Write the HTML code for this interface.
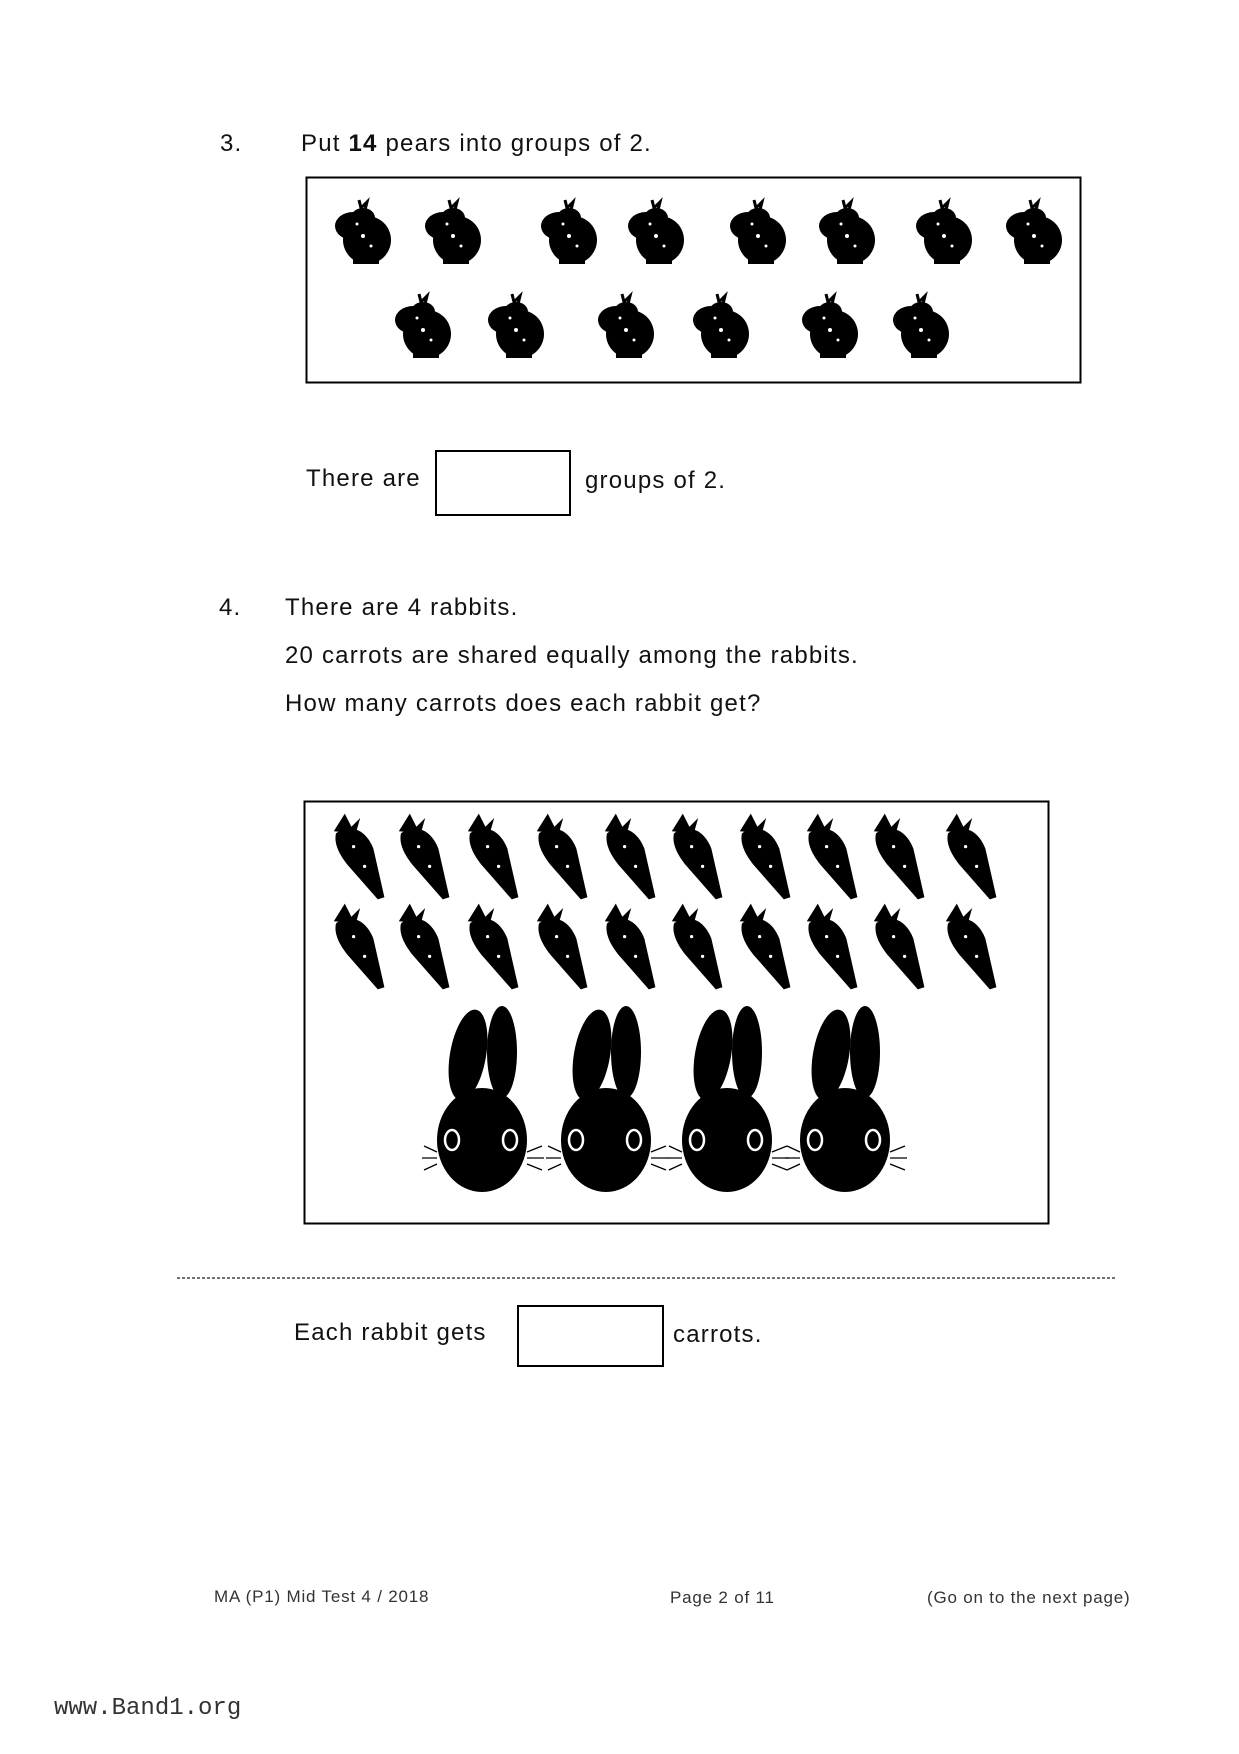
<!DOCTYPE html>
<html><head><meta charset="utf-8"><style>
html,body{margin:0;padding:0;background:#fff;}
body{width:1239px;height:1754px;position:relative;overflow:hidden;font-family:"Liberation Sans",Arial,sans-serif;color:#111;}
.t{position:absolute;font-size:24px;letter-spacing:1.2px;white-space:nowrap;line-height:1;}
.f{position:absolute;font-size:17px;letter-spacing:0.8px;white-space:nowrap;line-height:1;color:#333;}
svg{position:absolute;left:0;top:0;}
</style></head><body>
<svg width="1239" height="1754" viewBox="0 0 1239 1754">
<defs>
<g id="pear">
<path d="M-4,-32 L-2,-24 L4,-30 L2,-22" stroke="#000" stroke-width="3" fill="none"/>
<ellipse cx="4" cy="8" rx="24" ry="24" fill="#000"/>
<ellipse cx="-10" cy="-6" rx="18" ry="14" fill="#000"/>
<ellipse cx="0" cy="-14" rx="12" ry="10" fill="#000"/>
<rect x="-10" y="26" width="26" height="6" fill="#000"/>
<circle cx="0" cy="4" r="2" fill="#fff"/><circle cx="8" cy="14" r="1.5" fill="#fff"/><circle cx="-6" cy="-8" r="1.5" fill="#fff"/>
</g>
<g id="carrot">
<g transform="scale(1.1)">
<path d="M-22,-28 L-12,-44 L-6,-32 L2,-40 L-2,-26 Z" fill="#000"/>
<path d="M-20,-26 C-6,-36 8,-28 14,-12 L24,32 L18,34 L-10,2 C-18,-8 -22,-18 -20,-26 Z" fill="#000"/>
<circle cx="-4" cy="-14" r="1.5" fill="#fff"/><circle cx="6" cy="4" r="1.5" fill="#fff"/>
</g>
</g>
<g id="rabbit">
<ellipse cx="-14" cy="-85" rx="18" ry="46" transform="rotate(10 -14 -85)" fill="#000"/>
<ellipse cx="20" cy="-88" rx="15" ry="46" fill="#000"/>
<ellipse cx="0" cy="0" rx="45" ry="52" fill="#000"/>
<ellipse cx="-30" cy="0" rx="7" ry="10" fill="none" stroke="#fff" stroke-width="2.5"/>
<ellipse cx="28" cy="0" rx="7" ry="10" fill="none" stroke="#fff" stroke-width="2.5"/>
<path d="M-45,12 L-58,6 M-45,18 L-60,18 M-45,24 L-58,30 M45,12 L60,6 M45,18 L62,18 M45,24 L60,30" stroke="#000" stroke-width="1.3"/>
</g>
</defs>
<rect x="306.5" y="177.5" width="774" height="205" fill="none" stroke="#000" stroke-width="2"/>
<use href="#pear" x="363" y="232"/><use href="#pear" x="453" y="232"/><use href="#pear" x="569" y="232"/><use href="#pear" x="656" y="232"/>
<use href="#pear" x="758" y="232"/><use href="#pear" x="847" y="232"/><use href="#pear" x="944" y="232"/><use href="#pear" x="1034" y="232"/>
<use href="#pear" x="423" y="326"/><use href="#pear" x="516" y="326"/><use href="#pear" x="626" y="326"/><use href="#pear" x="721" y="326"/>
<use href="#pear" x="830" y="326"/><use href="#pear" x="921" y="326"/>
<rect x="436" y="451" width="134" height="64" fill="none" stroke="#000" stroke-width="2"/>
<rect x="304.5" y="801.5" width="744" height="422" fill="none" stroke="#000" stroke-width="2"/>
<g id="crow">
<use href="#carrot" x="358" y="862"/><use href="#carrot" x="423" y="862"/><use href="#carrot" x="492" y="862"/><use href="#carrot" x="561" y="862"/>
<use href="#carrot" x="629" y="862"/><use href="#carrot" x="696" y="862"/><use href="#carrot" x="764" y="862"/><use href="#carrot" x="831" y="862"/>
<use href="#carrot" x="898" y="862"/><use href="#carrot" x="970" y="862"/>
</g>
<use href="#crow" x="0" y="90"/>
<use href="#rabbit" x="482" y="1140"/><use href="#rabbit" x="606" y="1140"/><use href="#rabbit" x="727" y="1140"/><use href="#rabbit" x="845" y="1140"/>
<line x1="177" y1="1278" x2="1115" y2="1278" stroke="#444" stroke-width="1.5" stroke-dasharray="3 2"/>
<rect x="518" y="1306" width="145" height="60" fill="none" stroke="#000" stroke-width="2"/>
</svg>
<div class="t" style="left:220px;top:132px">3.</div>
<div class="t" style="left:301px;top:132px">Put <b>14</b> pears into groups of 2.</div>
<div class="t" style="left:306px;top:467px">There are</div>
<div class="t" style="left:585px;top:469px">groups of 2.</div>
<div class="t" style="left:219px;top:596px">4.</div>
<div class="t" style="left:285px;top:596px">There are 4 rabbits.</div>
<div class="t" style="left:285px;top:644px">20 carrots are shared equally among the rabbits.</div>
<div class="t" style="left:285px;top:692px">How many carrots does each rabbit get?</div>
<div class="t" style="left:294px;top:1321px">Each rabbit gets</div>
<div class="t" style="left:673px;top:1323px">carrots.</div>
<div class="f" style="left:214px;top:1588px">MA (P1) Mid Test 4 / 2018</div>
<div class="f" style="left:670px;top:1589px">Page 2 of 11</div>
<div class="f" style="left:927px;top:1589px">(Go on to the next page)</div>
<div class="t" style="left:54px;top:1697px;font-family:'Liberation Mono',monospace;font-size:24px;letter-spacing:0;color:#333">www.Band1.org</div>
</body></html>
